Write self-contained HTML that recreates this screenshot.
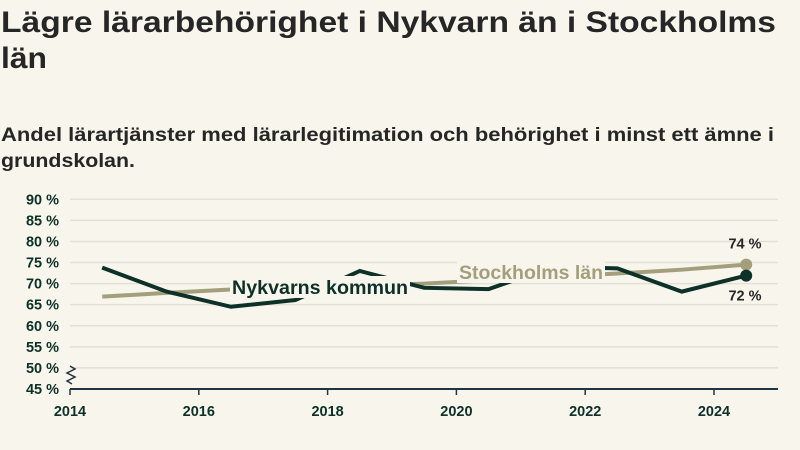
<!DOCTYPE html>
<html><head><meta charset="utf-8"><style>
html,body{margin:0;padding:0;background:#f8f6ec;}
svg{display:block;font-family:"Liberation Sans",sans-serif;}
</style></head><body>
<svg id="c" width="800" height="450" viewBox="0 0 800 450">
<rect width="800" height="450" fill="#f8f6ec"/>
<text x="1" y="32" font-size="30" font-weight="bold" fill="#262626" textLength="775" lengthAdjust="spacingAndGlyphs">Lägre lärarbehörighet i Nykvarn än i Stockholms</text>
<text x="1" y="68" font-size="30" font-weight="bold" fill="#262626" textLength="46" lengthAdjust="spacingAndGlyphs">län</text>
<text x="1" y="141" font-size="19.5" font-weight="bold" fill="#262626" textLength="773" lengthAdjust="spacingAndGlyphs">Andel lärartjänster med lärarlegitimation och behörighet i minst ett ämne i</text>
<text x="1" y="167" font-size="19.5" font-weight="bold" fill="#262626" textLength="134" lengthAdjust="spacingAndGlyphs">grundskolan.</text>
<g id="grid"></g><g id="lines"></g><g id="labels"></g>
</svg>
<script>
const years = [2014.5,2015.5,2016.5,2017.5,2018.5,2019.5,2020.5,2021.5,2022.5,2023.5,2024.5];
const nykvarn = [73.8,68.1,64.5,66.1,73.0,69.0,68.7,74.0,73.6,68.1,71.9];
const stockholm = [66.9,67.8,68.6,69.1,69.5,70.0,70.8,71.6,72.4,73.3,74.5];
const yTicks = [45,50,55,60,65,70,75,80,85,90];
const xTicks = [2014,2016,2018,2020,2022,2024];
const NS='http://www.w3.org/2000/svg';
const x = v => 70 + (v-2014)*64.4;
const y = v => 389 - (v-45)*4.216;
function el(t,a,p){const e=document.createElementNS(NS,t);for(const k in a)e.setAttribute(k,a[k]);p.appendChild(e);return e;}
const g=document.getElementById('grid'), L=document.getElementById('lines'), lb=document.getElementById('labels');
yTicks.forEach(t=>{
  if(t>45){const ln=el('line',{x1:70,x2:778,y1:y(t),y2:y(t),stroke:'#e2e0d8','stroke-width':1.5},g);
  
  }
  const tx=el('text',{x:59,y:y(t)+5,'font-size':14.5,'font-weight':'bold',fill:'#0d3028','text-anchor':'end'},g);
  tx.textContent=t+' %';
  
  
});
const ax=el('line',{x1:70,x2:778,y1:389,y2:389,stroke:'#234',"stroke-width":2},g);


const br=el('path',{d:'M70,366 l5,3 l-8,4 l8,4 l-8,4 l5,3',fill:'none',stroke:'#234','stroke-width':1.5},g);


xTicks.forEach(t=>{
  const tk=el('line',{x1:x(t),x2:x(t),y1:389,y2:395,stroke:'#234','stroke-width':1.5},g);
  
  
  const tx=el('text',{x:x(t),y:416,'font-size':14.5,'font-weight':'bold',fill:'#0d3028','text-anchor':'middle'},g);
  tx.textContent=t;
  
  
});
function line(vals,col,name){
  const d=vals.map((v,i)=>(i?'L':'M')+x(years[i])+','+y(v)).join(' ');
  const p=el('path',{d:d,fill:'none',stroke:col,'stroke-width':4,'stroke-linejoin':'miter'},L);
  
  
  const n=vals.length-1;
  const c=el('circle',{cx:x(years[n]),cy:y(vals[n]),r:6,fill:col},L);
  
  
}
line(stockholm,'#a39e7b','stockholm');
line(nykvarn,'#0d3028','nykvarn');
function label(txt,cx,cy,col,name,w){
  const r=el('rect',{x:cx-w/2-2,y:cy-12,width:w+4,height:22,fill:'#f8f6ec'},lb);
  
  
  const t=el('text',{x:cx-w/2,y:cy+6,'font-size':19,'font-weight':'bold',fill:col,textLength:w,lengthAdjust:'spacingAndGlyphs'},lb);
  t.textContent=txt;
  
  
}
label('Nykvarns kommun',320,288,'#0d3028','nykvarn',176);
label('Stockholms län',531,273,'#a39e7b','stockholm',144);
const n=years.length-1;
const a=el('text',{x:745,y:y(stockholm[n])-16,'font-size':14.5,'font-weight':'bold',fill:'#262626','text-anchor':'middle'},lb);
a.textContent=Math.round(stockholm[n]-0.5)+' %';


const b=el('text',{x:745,y:y(nykvarn[n])+25,'font-size':14.5,'font-weight':'bold',fill:'#262626','text-anchor':'middle'},lb);
b.textContent=Math.round(nykvarn[n])+' %';


</script>
</body></html>
